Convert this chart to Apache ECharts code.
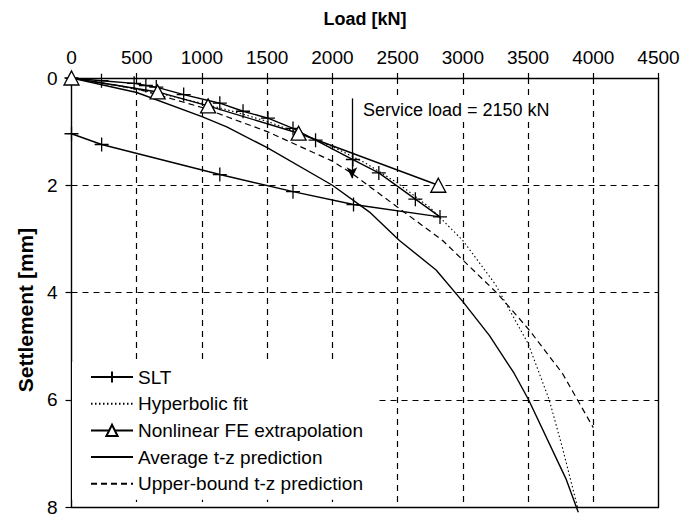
<!DOCTYPE html>
<html>
<head>
<meta charset="utf-8">
<script src="https://cdn.jsdelivr.net/npm/echarts@6/dist/echarts.min.js"></script>
<style>
html,body{margin:0;padding:0;background:#fff;}
#chart{width:697px;height:514px;}
</style>
</head>
<body>
<div id="chart"></div>
<script>
// ---- data ----
const sltLoad   = [0, 230, 480, 570, 650, 860, 1137, 1315, 1506, 1698, 1871, 2157, 2356, 2636, 2825, 2162, 1698, 1137, 231, 0];
const sltSettle = [0, 0.05, 0.10, 0.14, 0.17, 0.31, 0.47, 0.62, 0.75, 0.94, 1.16, 1.52, 1.77, 2.26, 2.59, 2.36, 2.12, 1.80, 1.24, 1.04];

const hypLoad   = [0, 250, 500, 750, 1000, 1250, 1500, 1750, 2000, 2250, 2500, 2750, 3000, 3250, 3500, 3662, 3764, 3879];
const hypSettle = [0, 0.10, 0.21, 0.33, 0.47, 0.63, 0.81, 1.03, 1.28, 1.58, 1.96, 2.42, 3.03, 3.85, 4.95, 6.0, 6.9, 8.0];

const feLoad    = [0, 660, 1047, 1741, 2812];
const feSettle  = [0, 0.26, 0.52, 1.03, 2.0];

const avgLoad   = [0, 500, 1000, 1190, 1500, 2000, 2285, 2514, 2795, 3000, 3203, 3394, 3504, 3790, 3885];
const avgSettle = [0, 0.27, 0.72, 0.91, 1.30, 2.0, 2.5, 3.03, 3.58, 4.17, 4.80, 5.51, 6.0, 7.47, 8.1];

const ubLoad    = [0, 500, 1000, 1500, 2000, 2150, 2500, 2845, 3266, 3509, 3764, 4000];
const ubSettle  = [0, 0.20, 0.55, 1.00, 1.55, 1.78, 2.41, 3.03, 4.02, 4.70, 5.51, 6.52];

const serviceLoad = 2150;
const serviceArrow = [0.38, 1.87];
const serviceText = 'Service load = 2150 kN';

const seriesNames = ['SLT', 'Hyperbolic fit', 'Nonlinear FE extrapolation', 'Average t-z prediction', 'Upper-bound t-z prediction'];
const xTitle = 'Load [kN]';
const yTitle = 'Settlement [mm]';

// ---- build ----
const zip = (a, b) => a.map((v, i) => [v, b[i]]);
const FONT = '"Liberation Sans", Arial, sans-serif';
const plusPath = 'path://M0,5L10,5M5,0L5,10';
const hidden = {color: 'rgba(0,0,0,0)', borderColor: 'rgba(0,0,0,0)', borderWidth: 0};

const chart = echarts.init(document.getElementById('chart'), null, {renderer: 'svg'});
const option = {
  animation: false,
  backgroundColor: '#fff',
  textStyle: {fontFamily: FONT, color: '#000'},
  grid: {left: 71.5, right: 38.5, top: 78, bottom: 7, containLabel: false, outerBoundsMode: 'none'},
  xAxis: [{
    type: 'value', position: 'top', min: 0, max: 4500, interval: 500,
    name: xTitle, nameLocation: 'middle', nameGap: 50,
    nameTextStyle: {fontSize: 18, fontWeight: 'bold', color: '#000', fontFamily: FONT},
    axisLine: {show: true, lineStyle: {color: '#000', width: 1.4}},
    axisTick: {show: true, length: 5, lineStyle: {color: '#000', width: 1.2}},
    axisLabel: {fontSize: 19, color: '#000', margin: 11, fontFamily: FONT, formatter: v => String(v)},
    splitLine: {show: true, showMinLine: false, showMaxLine: false, lineStyle: {color: '#000', type: [6, 5], width: 1.2}}
  }, {
    type: 'value', position: 'bottom', min: 0, max: 4500, interval: 500,
    axisLine: {show: true, onZero: false, lineStyle: {color: '#000', width: 1.4}},
    axisTick: {show: false}, axisLabel: {show: false}, splitLine: {show: false}
  }],
  yAxis: [{
    type: 'value', inverse: true, min: 0, max: 8, interval: 2, position: 'left',
    axisLine: {show: true, onZero: false, lineStyle: {color: '#000', width: 1.4}},
    axisTick: {show: true, length: 6, lineStyle: {color: '#000', width: 1.2}},
    axisLabel: {fontSize: 19, color: '#000', margin: 14, fontFamily: FONT, formatter: v => String(v)},
    splitLine: {show: true, showMinLine: false, showMaxLine: false, lineStyle: {color: '#000', type: [6, 5], width: 1.2}}
  }, {
    type: 'value', inverse: true, min: 0, max: 8, interval: 2, position: 'right',
    axisLine: {show: true, onZero: false, lineStyle: {color: '#000', width: 1.4}},
    axisTick: {show: false}, axisLabel: {show: false}, splitLine: {show: false}
  }],
  legend: {
    orient: 'vertical', left: 72, top: 362,
    padding: [5, 12, 6, 18], backgroundColor: '#fff',
    itemWidth: 42, itemHeight: 14, itemGap: 6.7,
    textStyle: {fontSize: 19, color: '#000', fontFamily: FONT, lineHeight: 20},
    data: seriesNames, selectedMode: false
  },
  series: [
    {
      name: seriesNames[0], type: 'line', data: zip(sltLoad, sltSettle),
      symbol: plusPath, symbolSize: 14, showAllSymbol: true,
      itemStyle: {color: 'none', borderColor: '#000', borderWidth: 1.3},
      lineStyle: {color: '#000', width: 1.4}, z: 5,
      markLine: {
        silent: true, symbol: ['none', 'arrow'], symbolSize: [8, 11],
        lineStyle: {color: '#000', width: 1.3, type: 'solid'},
        label: {show: false},
        data: [[{coord: [serviceLoad, serviceArrow[0]]}, {coord: [serviceLoad, serviceArrow[1]]}]]
      }
    },
    {
      name: seriesNames[1], type: 'line', data: zip(hypLoad, hypSettle),
      symbol: 'circle', showSymbol: false, itemStyle: hidden,
      lineStyle: {color: '#000', width: 1.1, type: [1.5, 2.5]}, z: 3
    },
    {
      name: seriesNames[2], type: 'line', data: zip(feLoad, feSettle),
      symbol: 'triangle', symbolSize: [15, 14], showAllSymbol: true,
      itemStyle: {color: '#fff', borderColor: '#000', borderWidth: 1.3},
      lineStyle: {color: '#000', width: 1.4}, z: 6
    },
    {
      name: seriesNames[3], type: 'line', data: zip(avgLoad, avgSettle),
      symbol: 'circle', showSymbol: false, clip: false, itemStyle: hidden,
      lineStyle: {color: '#000', width: 1.4}, z: 3
    },
    {
      name: seriesNames[4], type: 'line', data: zip(ubLoad, ubSettle),
      symbol: 'circle', showSymbol: false, itemStyle: hidden,
      lineStyle: {color: '#000', width: 1.2, type: [6, 4]}, z: 3
    }
  ],
  graphic: [{
    type: 'text', left: 361, top: 100, z: 10,
    style: {text: serviceText, fontSize: 18, fontFamily: FONT, fill: '#000',
            backgroundColor: '#fff', padding: [1, 2]}
  }, {
    type: 'text', x: 25, y: 310, rotation: Math.PI / 2, z: 10,
    style: {text: yTitle, fontSize: 21, fontWeight: 'bold', fontFamily: FONT, fill: '#000',
            align: 'center', verticalAlign: 'middle'}
  }]
};
chart.setOption(option);
</script>
</body>
</html>
